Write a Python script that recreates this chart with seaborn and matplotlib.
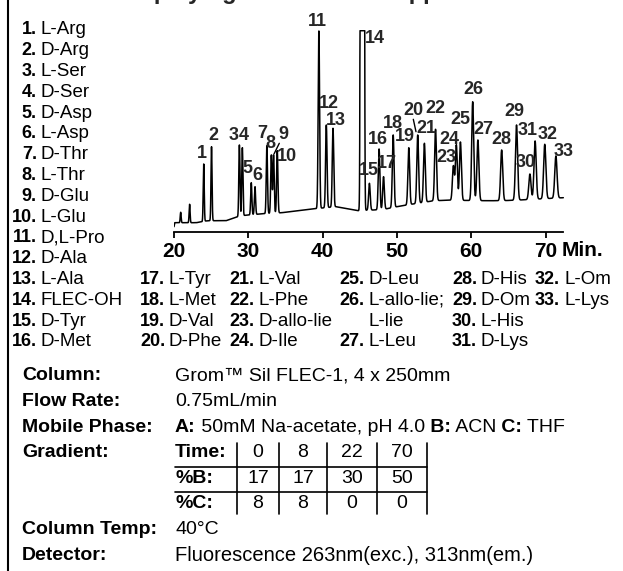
import numpy as np
import pandas as pd
import matplotlib
matplotlib.use("Agg")
import matplotlib.pyplot as plt
import seaborn as sns

#%% peaks (time in min, apex level in trace units)
peak_no = list(range(1, 34))
peak_time = [24.0, 25.05, 28.8, 29.2, 30.4, 30.9, 32.5, 33.1, 33.4, 33.9,
             39.5, 40.5, 41.4, 45.35, 46.3, 47.6, 48.2, 49.5, 51.6, 52.8,
             53.7, 55.2, 57.6, 58.0, 58.55, 60.2, 60.9, 64.1, 66.1, 67.9,
             68.6, 69.9, 71.4]
peak_top = [67.7, 85, 86.7, 84, 49, 45, 86, 76.7, 76.7, 81,
            200.7, 106.7, 103.4, 20000, 48.4, 82.7, 55, 96.7, 84, 96.7,
            88.4, 102.4, 65.7, 86.7, 89.7, 130, 91.7, 81.7, 106.7, 57.7,
            90.7, 87.4, 75.7]   # 14 (FLEC-OH) is off scale
minor_time = [20.9, 22.1]
minor_top = [19.4, 27.4]
base_time = [20.0, 20.1, 23.0, 24.5, 27.0, 29.0, 32.0, 34.5, 39.0, 41.8,
             44.8, 46.0, 48.0, 50.0, 52.0, 55.0, 57.0, 62.0, 64.0, 66.0, 72.4]
base_level = [5, 9, 9, 11, 11, 16, 18, 19, 23, 25,
              21, 21.5, 22, 25, 27.5, 31, 31.5, 31, 31, 31.5, 34]
full_scale = 201

#%% legend + conditions
compounds = ["L-Arg", "D-Arg", "L-Ser", "D-Ser", "D-Asp", "L-Asp", "D-Thr", "L-Thr",
             "D-Glu", "L-Glu", "D,L-Pro", "D-Ala", "L-Ala", "FLEC-OH", "D-Tyr", "D-Met",
             "L-Tyr", "L-Met", "D-Val", "D-Phe", "L-Val", "L-Phe", "D-allo-lie", "D-Ile",
             "D-Leu", "L-allo-lie;", "L-Leu", "D-His", "D-Om", "L-His", "D-Lys",
             "L-Om", "L-Lys"]
cond_labels = ["Column:", "Flow Rate:", "Mobile Phase:", "Gradient:", "", "",
               "Column Temp:", "Detector:"]
column_txt = "Grom\u2122 Sil FLEC-1, 4 x 250mm"
flow_txt = "0.75mL/min"
mobile_parts = [("A:", True), (" 50mM Na-acetate, pH 4.0", False), (" B:", True),
                (" ACN", False), (" C:", True), (" THF", False)]
temp_txt = "40\u00b0C"
detector_txt = "Fluorescence 263nm(exc.), 313nm(em.)"
grad_rows = ["Time:", "%B:", "%C:"]
grad_time = [0, 8, 22, 70]
grad_b = [17, 17, 30, 50]
grad_c = [8, 8, 0, 0]

#%% style
sns.set_theme(style="white")
plt.rcParams["font.family"] = ["Liberation Sans", "DejaVu Sans"]

W, H = 623, 571
fig = plt.figure(figsize=(W / 100, H / 100), dpi=100)
fig.patch.set_facecolor("white")
r = fig.canvas.get_renderer()


def fx(x):
    return x / W


def fy(y):
    return 1 - y / H


def put(x, y, s, bold=False, size=14, ha="left"):
    return fig.text(fx(x), fy(y), s, ha=ha, va="center", fontsize=size,
                    fontweight="bold" if bold else "normal", color="black")


#%% chromatogram trace
t = np.arange(20.0, 72.4, 0.004)
sig = np.interp(t, base_time, base_level)
for tt, top in zip(peak_time + minor_time, peak_top + minor_top):
    b0 = np.interp(tt, base_time, base_level)
    w = 0.06 + 0.0018 * (tt - 20)
    sig = sig + (top - b0) * np.exp(-0.5 * ((t - tt) / w) ** 2)
sig = np.minimum(sig, full_scale)
df = pd.DataFrame({"time": t, "signal": sig})

px_per_min = 7.43
ax = fig.add_axes([fx(174), fy(231.7), 52.5 * px_per_min / W, 201.5 / H])
sns.lineplot(data=df, x="time", y="signal", ax=ax, color="black", linewidth=1.1,
             estimator=None, sort=False)
ax.set_xlim(20, 72.5)
ax.set_ylim(0, 201.5)
ax.set_facecolor("none")
for s in ["left", "top", "right"]:
    ax.spines[s].set_visible(False)
ax.spines["bottom"].set_linewidth(1.3)
ax.spines["bottom"].set_color("black")
ax.spines["bottom"].set_bounds(20, 72.4)
ax.set_yticks([])
ax.set_xticks([20, 30, 40, 50, 60, 70])
ax.tick_params(axis="x", direction="out", length=4.5, width=1.3, pad=3,
               labelsize=15, colors="black", bottom=True)
for lb in ax.get_xticklabels():
    lb.set_fontweight("bold")
ax.set_xlabel("")
ax.set_ylabel("")
put(562, 250, "Min.", bold=True, size=15)

# peak numbers
label_pos = {1: (23.73, 78), 2: (25.29, 96), 3: (28.0, 96), 4: (29.45, 96),
             5: (29.9, 63), 6: (31.2, 56), 7: (31.85, 98), 8: (32.92, 88),
             9: (34.71, 97), 10: (35.17, 75), 11: (39.34, 210), 12: (40.9, 128),
             13: (41.76, 111), 14: (47.05, 193), 15: (46.29, 61), 16: (47.5, 92),
             17: (48.63, 68), 18: (49.52, 108), 19: (51.09, 95), 20: (52.21, 121),
             21: (53.92, 103), 22: (55.13, 123), 23: (56.6, 74), 24: (57.05, 92),
             25: (58.59, 112), 26: (60.28, 142), 27: (61.63, 102), 28: (64.01, 92),
             29: (65.76, 120), 30: (67.38, 69), 31: (67.6, 101), 32: (70.3, 97),
             33: (72.49, 80)}
for n in peak_no:
    x, y = label_pos[n]
    ax.text(x, y, str(n), ha="center", va="center", fontsize=13,
            fontweight="bold", clip_on=False)
ax.plot([33.46, 34.17], [77.7, 88.4], color="black", lw=1, clip_on=False)
ax.plot([52.21, 52.57], [112.4, 100], color="black", lw=1, clip_on=False)

#%% compound legend
LS = 13.5
row_y = [30 + 20.8 * k for k in range(16)]
for k in range(16):
    put(37, row_y[k], f"{k + 1}.", bold=True, size=13, ha="right")
    put(41, row_y[k], compounds[k], size=LS)
cols = [(140, [17, 18, 19, 20], [12, 13, 14, 15]),
        (229, [21, 22, 23, 24], [12, 13, 14, 15]),
        (339, [25, 26, 27], [12, 13, 15]),
        (452, [28, 29, 30, 31], [12, 13, 14, 15]),
        (535, [32, 33], [12, 13])]
for x0, nums, rows in cols:
    for n, rw in zip(nums, rows):
        put(x0, row_y[rw], f"{n}.", bold=True, size=13)
        put(x0 + 29, row_y[rw], compounds[n - 1], size=LS)
put(339 + 29, row_y[14], "L-lie", size=LS)

#%% conditions block
cy = [376 + 25.6 * k for k in range(8)]
for lab, y in zip(cond_labels, cy):
    if lab:
        put(22, y, lab, bold=True)
vx = 175
put(vx, cy[0], column_txt)
put(vx, cy[1], flow_txt)
x = vx
for s, b in mobile_parts:
    tx = put(x, cy[2], s, bold=b)
    x += tx.get_window_extent(renderer=r).width
put(vx, cy[6], temp_txt)
put(vx, cy[7], detector_txt, size=14.5)

# gradient table
seps = [237, 279, 327, 377, 427]
for i, (name, vals) in enumerate(zip(grad_rows, [grad_time, grad_b, grad_c])):
    y = cy[3 + i]
    put(vx, y, name, bold=True)
    for j, v in enumerate(vals):
        put((seps[j] + seps[j + 1]) / 2, y, str(v), ha="center")
for y in [(cy[3] + cy[4]) / 2 + 1, (cy[4] + cy[5]) / 2 + 1]:
    fig.add_artist(plt.Line2D([fx(vx), fx(seps[-1])], [fy(y), fy(y)], color="black", lw=1.2))
for xs in seps:
    fig.add_artist(plt.Line2D([fx(xs), fx(xs)], [fy(cy[3] - 10), fy(cy[5] + 10)],
                              color="black", lw=1.2))

# frame line on the left and the title, cut off at the top edge as in the source
fig.add_artist(plt.Line2D([fx(8), fx(8)], [0, 1], color="black", lw=1.5))
title = "Displaying Amino Acids Application"
probe = fig.text(0, 0, "Dis", fontsize=17, fontweight="bold")
dx = probe.get_window_extent(renderer=r).width
probe.remove()
fig.text(fx(156 - dx - 2), fy(-1.5), title, ha="left", va="baseline",
         fontsize=17, fontweight="bold")

fig.savefig("out.png", dpi=100, facecolor="white")
